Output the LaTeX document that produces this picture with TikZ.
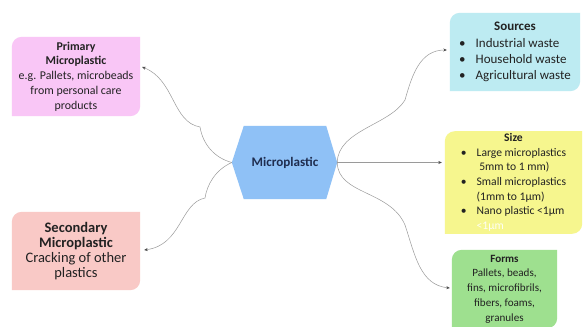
\documentclass[tikz,border=0pt]{standalone}
\usepackage{fontspec}
\setmainfont{Carlito}
\usetikzlibrary{calc,backgrounds,arrows.meta}
\definecolor{cprim}{HTML}{F9C6F6}
\definecolor{csec}{HTML}{F9C9C6}
\definecolor{csrc}{HTML}{BDEBF2}
\definecolor{csize}{HTML}{F6F68E}
\definecolor{cform}{HTML}{9EE08F}
\definecolor{chex}{HTML}{8FC1F6}
\definecolor{chext}{HTML}{1F2D4F}
\definecolor{clink}{HTML}{9A9A9A}
\definecolor{ctxt}{HTML}{222222}
\newcommand\leafshape[2]{%
  \fill[#2] ($(#1.north west)+(0pt,-10pt)$) arc[start angle=180,end angle=90,radius=10pt]
    -- (#1.north east) -- ($(#1.south east)+(0pt,10pt)$)
    arc[start angle=0,end angle=-90,radius=10pt] -- (#1.south west) -- cycle;}
\tikzset{
  boxnode/.style={rectangle,inner sep=0pt,align=center,text=ctxt},
  link/.style={draw=clink,line width=0.5pt,-{Stealth[length=3.5pt,width=3pt]},
    arrows={[color=black!70]}},
}
\begin{document}
\begin{tikzpicture}[x=1pt,y=1pt]
\useasboundingbox (0,0) rectangle (585,326);
% nodes
\node[boxnode,minimum width=128pt,minimum height=79pt,
  font=\fontsize{11.9}{14.8}\selectfont] (prim) at (76,249.5)
  {\textbf{Primary}\\\textbf{Microplastic}\\e.g. Pallets, microbeads\\from personal care\\products};
\node[boxnode,minimum width=128pt,minimum height=78pt,
  font=\fontsize{14.5}{15.2}\selectfont] (sec) at (76,75)
  {\textbf{Secondary}\\\textbf{Microplastic}\\Cracking of other\\plastics};
\node[boxnode,minimum width=130pt,minimum height=78pt,
  font=\fontsize{13}{16.2}\selectfont] (src) at (515,274)
  {\begin{tabular}{@{}l@{\hspace{10pt}}l@{}}
   \multicolumn{2}{c}{\textbf{Sources}}\\
   • & Industrial waste\\
   • & Household waste\\
   • & Agricultural waste
   \end{tabular}};
\node[boxnode,minimum width=137pt,minimum height=101pt,
  font=\fontsize{11.6}{14.6}\selectfont] (size) at (513.5,143.5)
  {\begin{tabular}{@{}l@{\hspace{10pt}}l@{}}
   \multicolumn{2}{c}{\textbf{Size}}\\
   • & Large microplastics\\
     & \ 5mm to 1 mm)\\
   • & Small microplastics\\
     & (1mm to 1µm)\\
   • & Nano plastic <1µm\\
     & \textcolor{white!90!csize}{<1µm}
   \end{tabular}};
\node[boxnode,minimum width=105pt,minimum height=78pt,
  font=\fontsize{11.1}{14.8}\selectfont] (forms) at (504.5,37)
  {\textbf{Forms}\\Pallets, beads,\\fins, microfibrils,\\fibers, foams,\\granules};
\node[boxnode,minimum width=82pt,minimum height=73pt,text=chext,
  font=\fontsize{13.1}{15}\selectfont] (hex) at (285,163.5)
  {\textbf{Microplastic}};
\coordinate (hexL) at ($(hex.west)+(-12pt,0pt)$);
\coordinate (hexR) at ($(hex.east)+(11pt,0pt)$);
% shapes
\begin{scope}[on background layer]
  \fill[white] (0,0) rectangle (585,326);
  \leafshape{prim}{cprim}
  \leafshape{sec}{csec}
  \leafshape{src}{csrc}
  \leafshape{size}{csize}
  \leafshape{forms}{cform}
  \fill[chex] (hexL) -- (hex.north west) -- (hex.north east) -- (hexR)
    -- (hex.south east) -- (hex.south west) -- cycle;
\end{scope}
% connectors
\draw[link] (hexL) .. controls (215,168) and (203,181) .. (200,199)
  .. controls (172,204) and (175,246) .. ([xshift=2pt,yshift=9.5pt]prim.east);
\draw[link] (hexL) .. controls (215,156) and (207,141) .. (205,128)
  .. controls (180,123) and (182,81) .. ([xshift=4pt,yshift=1pt]sec.east);
\draw[link] (hexR) .. controls (338,196) and (390,201) .. (405,226)
  .. controls (412,251) and (420,276) .. ([xshift=-3pt,yshift=2pt]src.west);
\draw[link] (hexR) -- ([xshift=-3pt]size.west |- hexR);
\draw[link] (hexR) .. controls (338,131) and (390,136) .. (405,101)
  .. controls (415,71) and (420,41) .. ([xshift=-2pt,yshift=1pt]forms.west);
\end{tikzpicture}
\end{document}
